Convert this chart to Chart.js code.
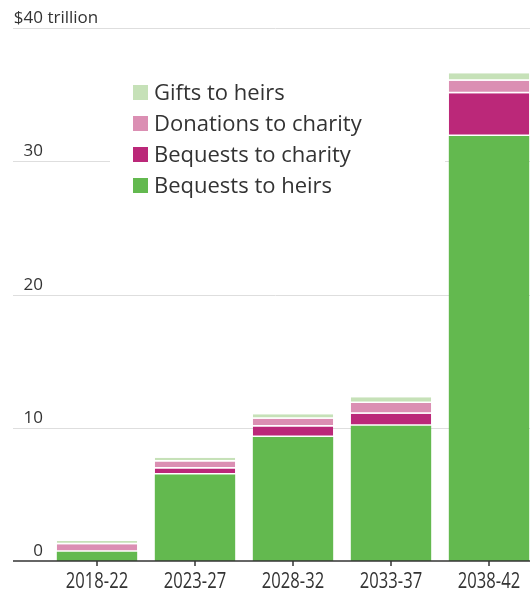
<!DOCTYPE html>
<html>
<head>
<meta charset="utf-8">
<script src="https://cdn.jsdelivr.net/npm/chart.js@4.4.1/dist/chart.umd.min.js"></script>
<style>
  html, body { margin: 0; padding: 0; background: #fff; overflow: hidden; }
  /* the last bar runs off the right edge in the original, so the canvas is a bit wider than the window */
  #wrap { width: 538px; height: 590px; position: relative; }
</style>
</head>
<body>
<div id="wrap"><canvas id="chart"></canvas></div>
<script>
// data, $ trillion
const periods = ['2018-22', '2023-27', '2028-32', '2033-37', '2038-42'];
const bequestsToHeirs = [0.7, 6.5, 9.3, 10.15, 31.9];
const bequestsToCharity = [0, 0.45, 0.8, 0.9, 3.2];
const donationsToCharity = [0.55, 0.52, 0.58, 0.8, 0.95];
const giftsToHeirs = [0.25, 0.28, 0.34, 0.44, 0.55];
const yTicks = [0, 10, 20, 30, 40];
const yUnit = 'trillion';

const textColor = '#333';

// gridlines, y labels, baseline, x labels and legend drawn by hand, WSJ style
const wsjDecor = {
  id: 'wsjDecor',
  beforeDatasetsDraw(chart) {
    const { ctx, scales: { y } } = chart;
    ctx.save();
    ctx.strokeStyle = '#dedede';
    ctx.lineWidth = 1;
    yTicks.forEach(v => {
      if (v === 0) return;
      const py = Math.round(y.getPixelForValue(v)) + 0.5;
      ctx.beginPath();
      ctx.moveTo(13, py);
      ctx.lineTo(chart.width, py);
      ctx.stroke();
    });
    // legend sits on a white box that hides the 30 line
    ctx.fillStyle = '#fff';
    ctx.fillRect(110, 70, 335, 135);

    ctx.font = '17px "Open Sans"';
    ctx.fillStyle = textColor;
    ctx.textBaseline = 'alphabetic';
    const top = yTicks[yTicks.length - 1];
    yTicks.forEach(v => {
      const py = y.getPixelForValue(v) - 5;
      ctx.textAlign = 'right';
      ctx.fillText(v === top ? '$' + v : String(v), 43, py);
      if (v === top) {
        ctx.textAlign = 'left';
        ctx.fillText(' ' + yUnit, 43, py);
      }
    });
    ctx.restore();
  },
  afterDatasetsDraw(chart) {
    const { ctx, scales: { x, y } } = chart;
    ctx.save();
    const py = y.getPixelForValue(0);
    ctx.strokeStyle = textColor;
    ctx.lineWidth = 1.5;
    ctx.beginPath();
    ctx.moveTo(13, py);
    ctx.lineTo(chart.width, py);
    ctx.stroke();

    // tick marks and category labels (narrow face, so squeeze Open Sans a little)
    ctx.lineWidth = 1.5;
    ctx.font = '21px "Open Sans"';
    ctx.fillStyle = textColor;
    ctx.textAlign = 'center';
    ctx.textBaseline = 'alphabetic';
    periods.forEach((p, i) => {
      const px = Math.round(x.getPixelForValue(i));
      ctx.beginPath();
      ctx.moveTo(px, py);
      ctx.lineTo(px, py + 5);
      ctx.stroke();
      ctx.save();
      ctx.translate(px, py + 27);
      ctx.scale(0.79, 1);
      ctx.fillText(p, 0, 0);
      ctx.restore();
    });

    // legend, top item is the top of the stack
    const items = chart.data.datasets.slice().reverse();
    ctx.font = '22px "Open Sans"';
    ctx.textAlign = 'left';
    items.forEach((ds, i) => {
      const ty = 85 + i * 31;
      ctx.fillStyle = ds.backgroundColor;
      ctx.fillRect(133, ty, 15, 15);
      ctx.fillStyle = textColor;
      ctx.fillText(ds.label, 154, ty + 15);
    });
    ctx.restore();
  }
};

const gap = { top: 0, right: 0, bottom: 1.5, left: 0 };

new Chart(document.getElementById('chart'), {
  type: 'bar',
  data: {
    labels: periods,
    datasets: [
      { label: 'Bequests to heirs', data: bequestsToHeirs, backgroundColor: '#63b94f', borderWidth: 0 },
      { label: 'Bequests to charity', data: bequestsToCharity, backgroundColor: '#bb2879', borderColor: '#fff', borderWidth: gap, borderSkipped: false },
      { label: 'Donations to charity', data: donationsToCharity, backgroundColor: '#db8fb3', borderColor: '#fff', borderWidth: gap, borderSkipped: false },
      { label: 'Gifts to heirs', data: giftsToHeirs, backgroundColor: '#c6e1b8', borderColor: '#fff', borderWidth: gap, borderSkipped: false }
    ]
  },
  options: {
    responsive: true,
    maintainAspectRatio: false,
    animation: false,
    categoryPercentage: 1,
    barPercentage: 0.82,
    layout: { padding: { left: 48, right: 0, top: 28, bottom: 0 } },
    plugins: {
      legend: { display: false },
      tooltip: { enabled: false }
    },
    scales: {
      x: {
        stacked: true,
        border: { display: false },
        grid: { display: false },
        ticks: { display: false },
        afterFit(scale) { scale.height = 29; }
      },
      y: {
        stacked: true,
        display: false,
        min: yTicks[0],
        max: yTicks[yTicks.length - 1]
      }
    }
  },
  plugins: [wsjDecor]
});
</script>
</body>
</html>
